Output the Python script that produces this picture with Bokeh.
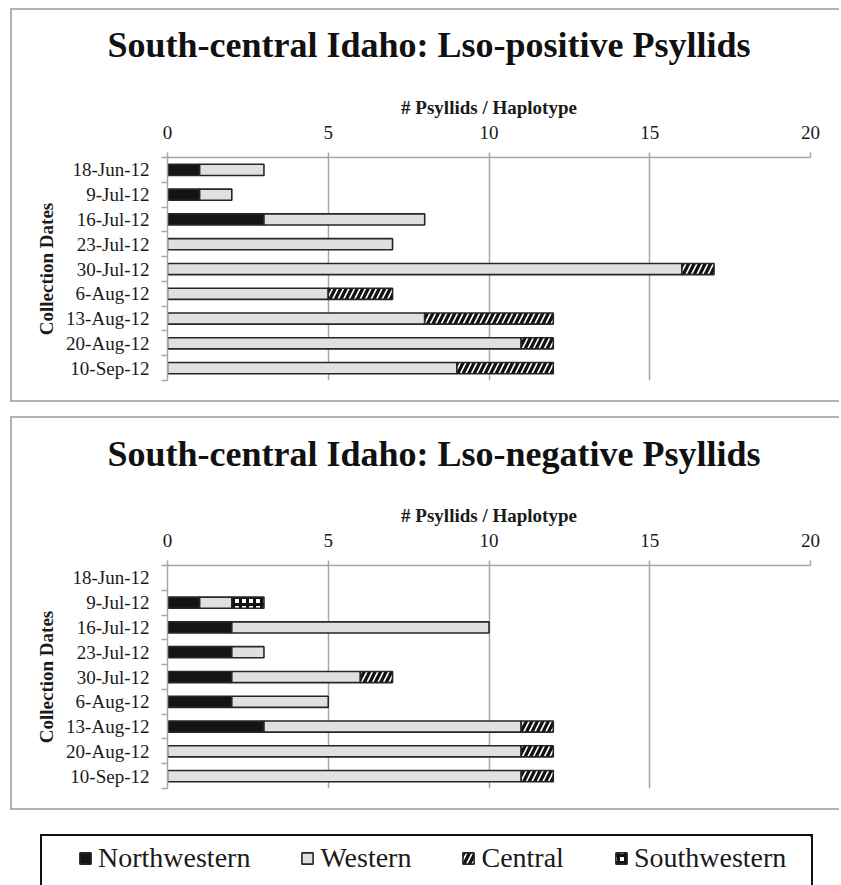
from bokeh.plotting import figure
from bokeh.models import (Range1d, FixedTicker, Legend, LegendItem, ColumnDataSource, Title)
from bokeh.layouts import column
from bokeh.embed import file_html
from bokeh.resources import INLINE

# ---------------- data ----------------
dates = ["18-Jun-12", "9-Jul-12", "16-Jul-12", "23-Jul-12", "30-Jul-12",
         "6-Aug-12", "13-Aug-12", "20-Aug-12", "10-Sep-12"]
haplotypes = ["Northwestern", "Western", "Central", "Southwestern"]

pos_northwestern = [1, 1, 3, 0, 0, 0, 0, 0, 0]
pos_western      = [2, 1, 5, 7, 16, 5, 8, 11, 9]
pos_central      = [0, 0, 0, 0, 1, 2, 4, 1, 3]
pos_southwestern = [0, 0, 0, 0, 0, 0, 0, 0, 0]

neg_northwestern = [0, 1, 2, 2, 2, 2, 3, 0, 0]
neg_western      = [0, 1, 8, 1, 4, 3, 8, 11, 11]
neg_central      = [0, 0, 0, 0, 1, 0, 1, 1, 1]
neg_southwestern = [0, 1, 0, 0, 0, 0, 0, 0, 0]

x_ticks = [0, 5, 10, 15, 20]

title_pos = "South-central Idaho: Lso-positive Psyllids"
title_neg = "South-central Idaho: Lso-negative Psyllids"
x_title = "# Psyllids / Haplotype"
y_title = "Collection Dates"

# ---------------- styles ----------------
SERIF = "Liberation Serif"
STYLES = {
    "Northwestern": dict(fill_color="#141414"),
    "Western": dict(fill_color="#e0e0e0"),
    "Central": dict(fill_color="white", hatch_pattern="/", hatch_color="#111111",
                    hatch_scale=11, hatch_weight=3.3),
    "Southwestern": dict(fill_color="white", hatch_pattern="+", hatch_color="#111111",
                         hatch_scale=7, hatch_weight=3),
}
GRID = "#a8a8a8"
PANEL_W = 829
TITLE_H = 70
CHART_H = 320
PANEL_EDGE = "-2px -2px 0 0 #b3b3b3, -2px 2px 0 0 #b3b3b3"


def add_bars(p, series):
    renderers = {}
    cum = [0] * len(dates)
    for name, vals in zip(haplotypes, series):
        ys, lefts, rights = [], [], []
        for i, v in enumerate(vals):
            if v > 0:
                ys.append(i + 0.5)
                lefts.append(cum[i])
                rights.append(cum[i] + v)
            cum[i] += v
        src = ColumnDataSource(dict(y=ys, left=lefts, right=rights))
        kw = dict(line_color="#262626", line_width=1.6)
        kw.update(STYLES[name])
        renderers[name] = p.hbar(y="y", left="left", right="right", height=0.45,
                                 source=src, **kw)
    return renderers


def title_fig(text, standoff):
    t = figure(width=PANEL_W, height=TITLE_H, output_backend="svg", toolbar_location=None,
               x_axis_location=None, y_axis_location=None,
               x_range=Range1d(0, 1), y_range=Range1d(0, 1),
               min_border_left=155, min_border_right=31, min_border_top=0,
               min_border_bottom=0,
               outline_line_color=None, border_fill_color="white",
               background_fill_color="white")
    t.grid.visible = False
    t.add_layout(Title(text=text, align="left", offset=-60, standoff=standoff,
                       vertical_align="bottom",
                       text_font=SERIF, text_font_style="bold", text_font_size="36px",
                       text_color="#111111"), "above")
    return t


def chart_fig(series):
    p = figure(width=PANEL_W, height=CHART_H, output_backend="svg", toolbar_location=None,
               x_range=Range1d(0, 20), y_range=Range1d(len(dates), 0),
               x_axis_location="above", min_border_left=155, min_border_right=31,
               min_border_top=77, min_border_bottom=20,
               outline_line_color=None, background_fill_color="white",
               border_fill_color="white")
    add_bars(p, series)

    xa = p.xaxis[0]
    xa.ticker = FixedTicker(ticks=x_ticks)
    xa.axis_line_color = GRID
    xa.axis_line_width = 1.5
    xa.major_tick_line_color = GRID
    xa.major_tick_line_width = 1.5
    xa.major_tick_out = 5
    xa.major_tick_in = 0
    xa.minor_tick_line_color = None
    xa.major_label_text_font = SERIF
    xa.major_label_text_font_size = "19px"
    xa.major_label_text_color = "#1a1a1a"
    xa.major_label_standoff = 14
    xa.axis_label = x_title
    xa.axis_label_text_font = SERIF
    xa.axis_label_text_font_style = "bold"
    xa.axis_label_text_font_size = "19px"
    xa.axis_label_text_color = "#1a1a1a"
    xa.axis_label_standoff = 5

    ya = p.yaxis[0]
    ya.ticker = FixedTicker(ticks=[i + 0.5 for i in range(len(dates))],
                            minor_ticks=list(range(len(dates) + 1)))
    ya.major_label_overrides = {i + 0.5: d for i, d in enumerate(dates)}
    ya.axis_line_color = GRID
    ya.axis_line_width = 1.5
    ya.major_tick_line_color = None
    ya.major_tick_out = 0
    ya.major_tick_in = 0
    ya.minor_tick_line_color = GRID
    ya.minor_tick_line_width = 1.5
    ya.minor_tick_out = 6
    ya.minor_tick_in = 0
    ya.major_label_text_font = SERIF
    ya.major_label_text_font_size = "19px"
    ya.major_label_text_color = "#1a1a1a"
    ya.major_label_standoff = 12
    ya.axis_label = y_title
    ya.axis_label_text_font = SERIF
    ya.axis_label_text_font_style = "bold"
    ya.axis_label_text_font_size = "19px"
    ya.axis_label_text_color = "#1a1a1a"
    ya.axis_label_standoff = 6

    p.xgrid.ticker = FixedTicker(ticks=x_ticks)
    p.xgrid.grid_line_color = GRID
    p.xgrid.grid_line_width = 1.5
    p.ygrid.grid_line_color = None
    return p


panel1 = column(title_fig(title_pos, 25),
                chart_fig([pos_northwestern, pos_western, pos_central, pos_southwestern]),
                spacing=0, margin=(10, 0, 0, 12), styles={"box-shadow": PANEL_EDGE})
panel2 = column(title_fig(title_neg, 29),
                chart_fig([neg_northwestern, neg_western, neg_central, neg_southwestern]),
                spacing=0, margin=(18, 0, 0, 12), styles={"box-shadow": PANEL_EDGE})

# legend panel: its bars lie far outside both of its ranges, so only the legend shows
pl = figure(width=769, height=49, frame_width=769, frame_height=49,
            output_backend="svg", toolbar_location=None,
            x_axis_location=None, y_axis_location=None,
            x_range=Range1d(-1000, -999), y_range=Range1d(-1000, -999),
            min_border_left=0, min_border_right=0, min_border_top=0, min_border_bottom=0,
            outline_line_color=None, border_fill_color="white",
            background_fill_color="white",
            margin=(28, 0, 0, 42), styles={"outline": "2px solid #111111"})
pl.grid.visible = False
rl = add_bars(pl, [neg_northwestern, neg_western, neg_central, neg_southwestern])
legend = Legend(items=[LegendItem(label=h, renderers=[rl[h]]) for h in haplotypes],
                orientation="horizontal", location=(36, 11),
                border_line_alpha=0, background_fill_alpha=0, padding=0, margin=0,
                spacing=50, glyph_width=14, glyph_height=14, label_standoff=6,
                label_text_font=SERIF, label_text_font_size="28px",
                label_text_color="#1a1a1a", label_height=28)
pl.add_layout(legend)

layout = column(panel1, panel2, pl, spacing=0)
html = file_html(layout, INLINE)
html = html.replace("<head>", "<head><style>html,body{overflow:hidden}</style>", 1)
open("out.html", "w").write(html)
